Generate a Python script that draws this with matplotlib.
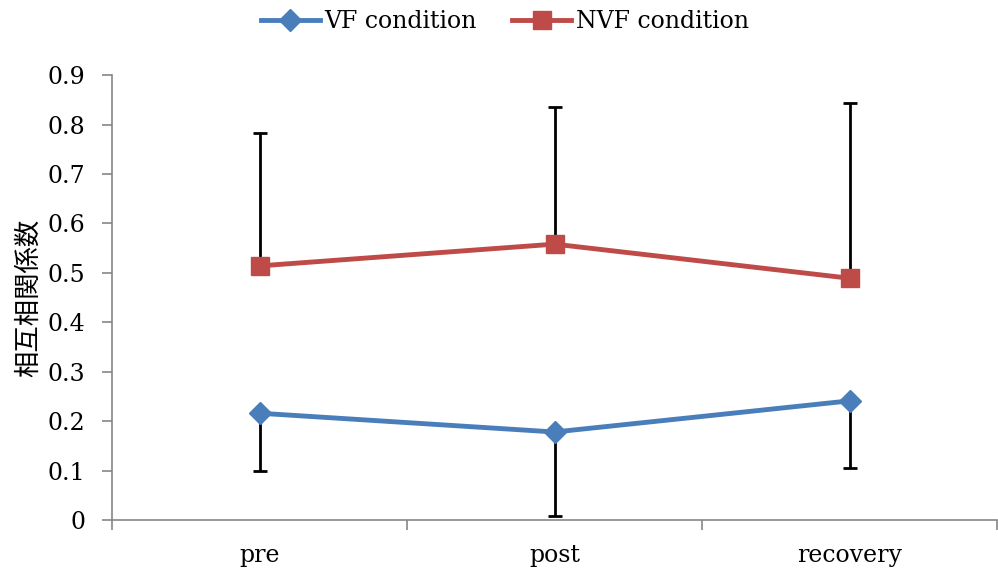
import matplotlib.pyplot as plt
import numpy as np

categories = ['pre', 'post', 'recovery']
vf_mean = [0.216, 0.178, 0.241]
vf_err = [0.117, 0.170, 0.136]      # lower-only error bars
nvf_mean = [0.514, 0.558, 0.489]
nvf_err = [0.269, 0.277, 0.354]     # upper-only error bars

plt.rcParams['font.family'] = ['DejaVu Serif']

fig = plt.figure(figsize=(9.98, 5.73), dpi=100)
ax = fig.add_axes([0.1122, 0.0925, 0.887, 0.7765])
x = np.arange(len(categories))

blue = '#4a7ebb'
red = '#be4b48'

ax.errorbar(x, vf_mean, yerr=[vf_err, [0]*3], fmt='none', ecolor='black',
            elinewidth=2, capsize=5, capthick=2, zorder=2)
ax.errorbar(x, nvf_mean, yerr=[[0]*3, nvf_err], fmt='none', ecolor='black',
            elinewidth=2, capsize=5, capthick=2, zorder=2)
ax.plot(x, vf_mean, color=blue, lw=3.5, marker='D', ms=11, label='VF condition', zorder=3)
ax.plot(x, nvf_mean, color=red, lw=3.5, marker='s', ms=13, label='NVF condition', zorder=3)

ax.set_xlim(-0.5, 2.5)
ax.set_ylim(0, 0.9)
ax.set_yticks(np.arange(0, 0.91, 0.1))
ax.set_yticklabels(['0'] + ['%.1f' % v for v in np.arange(0.1, 0.91, 0.1)])
ax.set_xticks(x)
ax.set_xticklabels(categories)
ax.set_xticks([-0.5, 0.5, 1.5, 2.5], minor=True)
ax.tick_params(axis='x', which='major', length=0, pad=17, labelsize=17)
ax.tick_params(axis='x', which='minor', length=7, color='#868686', width=1.2)
ax.tick_params(axis='y', length=7, color='#868686', width=1.2, labelsize=17, pad=12)

for s in ['top', 'right']:
    ax.spines[s].set_visible(False)
for s in ['left', 'bottom']:
    ax.spines[s].set_color('#868686')
    ax.spines[s].set_linewidth(1.2)

ax.set_ylabel('相互相関係数', family=['Noto Sans CJK JP'], fontsize=19, labelpad=4)

fig.legend(loc='center', bbox_to_anchor=(0.506, 0.962), ncol=2, frameon=False,
           fontsize=17, handlelength=2.5, handletextpad=0.2, columnspacing=1.5)

fig.savefig('out.png', dpi=100)
